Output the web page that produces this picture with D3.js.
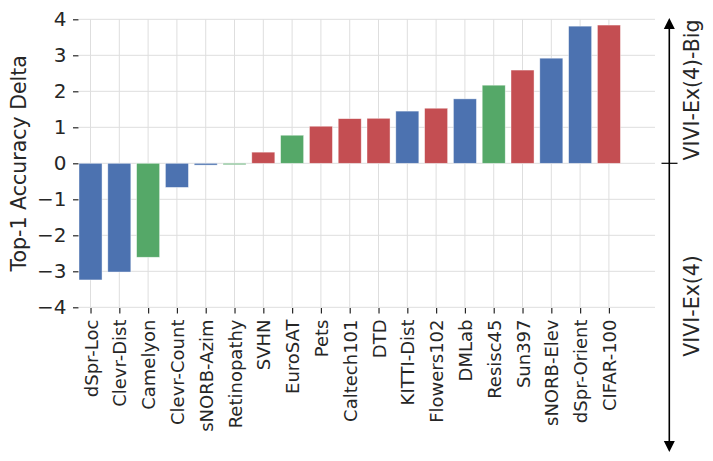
<!DOCTYPE html>
<html>
<head>
<meta charset="utf-8">
<script src="https://cdn.jsdelivr.net/npm/d3@7"></script>
<style>
  body { margin: 0; background: #fff; }
  svg { font-family: "DejaVu Sans", sans-serif; }
</style>
</head>
<body>
<div id="chart"></div>
<script>
const w = 713
const h = 461
const blue = '#4c72b0'
const green = '#55a868'
const red = '#c44e52'

const datasets = ['dSpr-Loc', 'Clevr-Dist', 'Camelyon', 'Clevr-Count', 'sNORB-Azim', 'Retinopathy', 'SVHN', 'EuroSAT', 'Pets', 'Caltech101', 'DTD', 'KITTI-Dist', 'Flowers102', 'DMLab', 'Resisc45', 'Sun397', 'sNORB-Elev', 'dSpr-Orient', 'CIFAR-100']
const deltas = [-3.24, -3.02, -2.61, -0.67, -0.05, -0.04, 0.31, 0.78, 1.03, 1.24, 1.25, 1.45, 1.53, 1.79, 2.17, 2.59, 2.92, 3.81, 3.84]
const groups = ['structured', 'structured', 'specialized', 'structured', 'structured', 'specialized', 'natural', 'specialized', 'natural', 'natural', 'natural', 'structured', 'natural', 'structured', 'specialized', 'natural', 'structured', 'structured', 'natural']
const yTicks = [-4, -3, -2, -1, 0, 1, 2, 3, 4]
const groupColor = { natural: red, specialized: green, structured: blue }

const svg = d3.select('#chart')
    .append('svg')
    .attr('width', w)
    .attr('height', h)

const xScale = d3.scaleLinear()
    .domain([-0.4, 19.6])
    .range([79, 655])

const yScale = d3.scaleLinear()
    .domain([-4, 4])
    .range([307.3, 19.3])

// grid
svg.append('g')
    .selectAll('line')
    .data(yTicks)
    .enter()
    .append('line')
    .attr('x1', xScale(-0.4))
    .attr('x2', xScale(19.6))
    .attr('y1', d => yScale(d))
    .attr('y2', d => yScale(d))
    .attr('stroke', '#dedede')
    .attr('stroke-width', 1)

svg.append('g')
    .selectAll('line')
    .data(datasets)
    .enter()
    .append('line')
    .attr('x1', (d, i) => xScale(i))
    .attr('x2', (d, i) => xScale(i))
    .attr('y1', yScale(4))
    .attr('y2', yScale(-4))
    .attr('stroke', '#dedede')
    .attr('stroke-width', 1)

// bars
svg.append('g')
    .selectAll('rect')
    .data(deltas)
    .enter()
    .append('rect')
    .attr('x', (d, i) => xScale(i - 0.4))
    .attr('width', xScale(0.8) - xScale(0))
    .attr('y', d => yScale(Math.max(0, d)))
    .attr('height', d => Math.abs(yScale(d) - yScale(0)))
    .attr('fill', (d, i) => groupColor[groups[i]])
    .attr('stroke', '#fff')
    .attr('stroke-opacity', 0.6)
    .attr('stroke-width', 0.7)

// y axis
const yAxis = d3.axisLeft(yScale)
    .tickValues(yTicks)
    .tickFormat(d => d < 0 ? '\u2212' + Math.abs(d) : d)
    .tickSize(5.5)
    .tickPadding(6.5)

svg.append('g')
    .attr('transform', 'translate(78.5,0)')
    .call(yAxis)
    .call(g => g.select('.domain').remove())
    .call(g => g.selectAll('line').attr('stroke', '#262626').attr('stroke-width', 1.2))
    .call(g => g.selectAll('text').attr('fill', '#262626').style('font-size', '20px').style('font-family', '"DejaVu Sans"'))

// x axis
const xAxis = d3.axisBottom(xScale)
    .tickValues(d3.range(datasets.length))
    .tickFormat(i => datasets[i])
    .tickSize(5.5)

svg.append('g')
    .attr('transform', 'translate(0,308)')
    .call(xAxis)
    .call(g => g.select('.domain').remove())
    .call(g => g.selectAll('line').attr('stroke', '#262626').attr('stroke-width', 1.2))
    .call(g => g.selectAll('text')
        .attr('fill', '#262626')
        .style('font-size', '18px')
        .style('font-family', '"DejaVu Sans"')
        .attr('text-anchor', 'end')
        .attr('transform', 'rotate(-90)')
        .attr('x', -11.5)
        .attr('y', 0)
        .attr('dy', '0.36em'))

// y label
svg.append('text')
    .attr('transform', 'translate(25.5,' + yScale(0) + ') rotate(-90)')
    .attr('text-anchor', 'middle')
    .attr('fill', '#262626')
    .style('font-size', '20.5px')
    .text('Top-1 Accuracy Delta')

// right side arrow
const ax = 669.3
svg.append('line')
    .attr('x1', ax).attr('x2', ax)
    .attr('y1', 26).attr('y2', 444)
    .attr('stroke', '#000')
    .attr('stroke-width', 1.6)
svg.append('path')
    .attr('d', `M${ax},18 L${ax - 5.5},29 L${ax + 5.5},29 Z`)
    .attr('fill', '#000')
svg.append('path')
    .attr('d', `M${ax},452 L${ax - 5.5},441 L${ax + 5.5},441 Z`)
    .attr('fill', '#000')
svg.append('line')
    .attr('x1', 661.5).attr('x2', 677.5)
    .attr('y1', yScale(0)).attr('y2', yScale(0))
    .attr('stroke', '#000')
    .attr('stroke-width', 1.2)

svg.append('text')
    .attr('transform', 'translate(698.5,90) rotate(-90)')
    .attr('text-anchor', 'middle')
    .attr('fill', '#262626')
    .style('font-size', '20.5px')
    .text('VIVI-Ex(4)-Big')

svg.append('text')
    .attr('transform', 'translate(698.5,306) rotate(-90)')
    .attr('text-anchor', 'middle')
    .attr('fill', '#262626')
    .style('font-size', '20.5px')
    .text('VIVI-Ex(4)')
</script>
</body>
</html>
